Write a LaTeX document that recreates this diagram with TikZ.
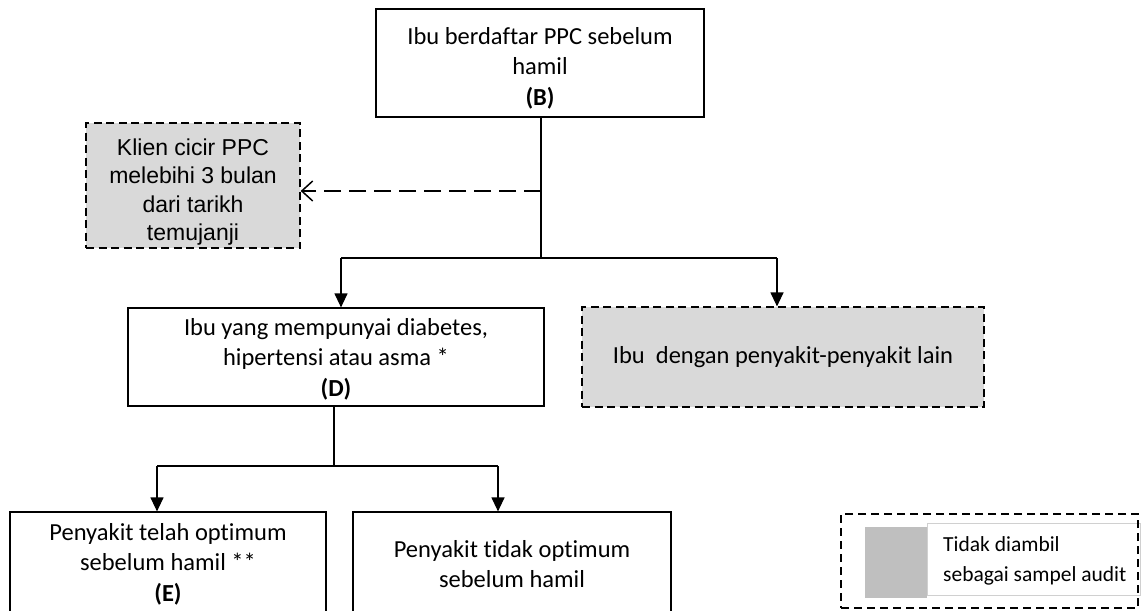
\documentclass[tikz,border=0pt]{standalone}
\usepackage{fontspec}
\setmainfont[Ligatures=NoCommon]{Carlito}
\newfontfamily\arialf{Liberation Sans}
\usetikzlibrary{arrows.meta}
\definecolor{boxgray}{HTML}{D9D9D9}
\definecolor{leggray}{HTML}{BFBFBF}
\definecolor{thingray}{HTML}{D0D0D0}
\begin{document}
\begin{tikzpicture}[x=1pt,y=-1pt,
  box/.style={draw, line width=1.2pt, inner sep=0pt, align=center, font=\fontsize{24.5}{30.5}\selectfont},
  gbox/.style={box, fill=boxgray, dash pattern=on 8pt off 4.5pt},
  txt/.style={inner sep=0pt, align=center, font=\fontsize{24.5}{30.5}\selectfont},
  conn/.style={line width=1.2pt},
  arr/.style={conn, -{Triangle[width=13pt,length=14pt]}},
  darr/.style={conn, dash pattern=on 17pt off 8pt, -{Straight Barb[width=20pt,length=11pt,line width=1.5pt]}},
]
\useasboundingbox (0,0) rectangle (1142,610);
\clip (0,0) rectangle (1142,610);
\fill[white] (0,0) rectangle (1142,610);

% boxes
\node[box, minimum width=328pt, minimum height=108pt] (B) at (540,63) {};
\node[txt] (Bt) at (540,68) {Ibu berdaftar PPC sebelum\\hamil\\\textbf{(B)}};
\node[gbox, minimum width=214pt, minimum height=125pt] (C) at (193,185.5) {};
\node[txt, font=\arialf\fontsize{23}{28.5}\selectfont] (Ct) at (193,192)
  {Klien cicir PPC\\melebihi 3 bulan\\dari tarikh\\temujanji};
\node[box, minimum width=416pt, minimum height=98pt] (D) at (336,357) {};
\node[txt] (Dt) at (336,359) {Ibu yang mempunyai diabetes,\\hipertensi atau asma *\\\textbf{(D)}};
\node[gbox, minimum width=402pt, minimum height=100pt] (G) at (783,357)
  {Ibu\ \ dengan penyakit-penyakit lain};
\node[box, minimum width=316pt, minimum height=100pt] (E) at (168,562) {};
\node[txt] (Et) at (168,564) {Penyakit telah optimum\\sebelum hamil **\\\textbf{(E)}};
\node[box, minimum width=318pt, minimum height=100pt] (F) at (512,562) {};
\node[txt] (Ft) at (512,564) {Penyakit tidak optimum\\sebelum hamil};

% connectors
\coordinate (jB) at (541,258);
\coordinate (jC) at (541,191);
\coordinate (jD) at (341,258);
\coordinate (jG) at (777,258);
\coordinate (jDs) at (334,466);
\coordinate (jE) at (157,466);
\coordinate (jF) at (498,466);

\draw[conn] (B.south -| jB) -- (jB);
\draw[darr] (jC) -- (C.east |- jC);
\draw[conn] (jD) -- (jG);
\draw[arr] (jD) -- (jD |- D.north);
\draw[arr] (jG) -- (jG |- G.north);
\draw[conn] (D.south -| jDs) -- (jDs);
\draw[conn] (jE) -- (jF);
\draw[arr] (jE) -- (jE |- E.north);
\draw[arr] (jF) -- (jF |- F.north);

% legend
\node[fill=white, draw=thingray, line width=0.6pt, minimum width=213pt, minimum height=72pt,
  inner sep=0pt, anchor=west] (LT) at (927,559) {};
\node[fill=leggray, minimum width=62pt, minimum height=71pt, inner sep=0pt] (LS) at (896,562.5) {};
\node[anchor=west, align=left, inner sep=0pt, font=\fontsize{21.5}{30}\selectfont] (LX) at (943,561)
  {Tidak diambil\\sebagai sampel audit};
\node[draw, line width=1.5pt, dash pattern=on 8pt off 5pt, minimum width=297pt,
  minimum height=94pt, inner sep=0pt] (L) at (989.5,561) {};
\end{tikzpicture}
\end{document}
